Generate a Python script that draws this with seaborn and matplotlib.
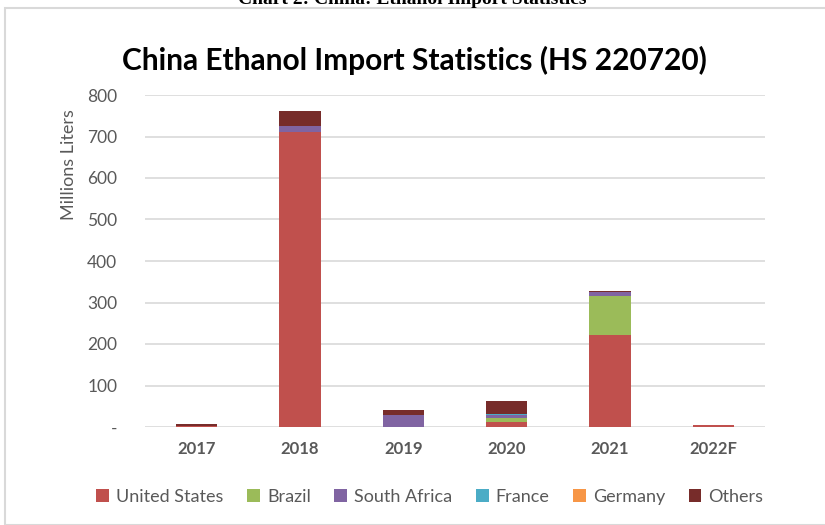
import matplotlib
matplotlib.use("Agg")
import matplotlib.pyplot as plt
import seaborn as sns
import pandas as pd
import numpy as np
from matplotlib.patches import Rectangle, Patch

years = ["2017", "2018", "2019", "2020", "2021", "2022F"]
series = ["United States", "Brazil", "South Africa", "France", "Germany", "Others"]
united_states = [2, 711, 0, 12, 222, 4]
brazil = [0, 0, 0, 10, 94, 0]
south_africa = [0, 14, 28, 8, 9, 0]
france = [0, 0, 0, 1, 0, 0]
germany = [0, 0, 0, 0, 0, 0]
others = [6, 36, 14, 32, 3, 1]
colors = ["#c0504d", "#9bbb59", "#8064a2", "#4bacc6", "#f79646", "#772c2a"]
yticks = [0, 100, 200, 300, 400, 500, 600, 700, 800]
ytick_labels = ["-", "100", "200", "300", "400", "500", "600", "700", "800"]

values = [united_states, brazil, south_africa, france, germany, others]
df = pd.DataFrame({"Year": years})
cum = np.zeros(len(years))
for name, vals in zip(series, values):
    cum = cum + np.array(vals, dtype=float)
    df[name] = cum.copy()

sns.set_theme(style="white")
plt.rcParams["font.family"] = ["Lato", "DejaVu Sans"]

fig = plt.figure(figsize=(8.25, 5.25), dpi=100)
ax = fig.add_axes([145/825, 1-427/525, (765-145)/825, (427-95)/525])

# stacked bars via overlapping cumulative bars (top layer first)
for name, col in reversed(list(zip(series, colors))):
    sns.barplot(data=df, x="Year", y=name, color=col, width=0.4,
                saturation=1, ax=ax, linewidth=0, order=years)

ax.set_ylim(0, 800)
ax.set_xlim(-0.5, len(years) - 0.5)
ax.set_yticks(yticks)
ax.set_yticklabels(ytick_labels)
ax.yaxis.grid(True, color="#d9d9d9", linewidth=1.2)
ax.set_axisbelow(True)
for s in ax.spines.values():
    s.set_visible(False)
ax.tick_params(axis="y", colors="#595959", labelsize=12.5, length=0, pad=20)
ax.tick_params(axis="x", colors="#595959", labelsize=12, length=0, pad=10)
for lbl in ax.get_xticklabels():
    lbl.set_fontweight("bold")
ax.set_xlabel("")
ax.set_ylabel("Millions Liters", fontsize=13, color="#595959", labelpad=8)
ax.yaxis.set_label_coords(-0.11, (427-165)/332)

fig.text(414/825, 1-60/525, "China Ethanol Import Statistics (HS 220720)",
         ha="center", va="center", fontsize=21.5, fontweight="bold", color="#000000")

fig.text(0.5, 1-4/525, "Chart 2: China: Ethanol Import Statistics",
         ha="center", va="baseline", fontsize=14, fontweight="bold",
         family=["Liberation Serif", "DejaVu Serif"], color="#000000")

handles = [Patch(facecolor=c, edgecolor="none") for c in colors]
fig.legend(handles, series, loc="center", bbox_to_anchor=(430/825, 1-497/525),
           ncol=6, frameon=False, fontsize=13, handlelength=0.7, handleheight=0.7,
           columnspacing=1.3, handletextpad=0.4, labelcolor="#595959")

fig.patches.append(Rectangle((5/825, 0), 1, 1-8/525, transform=fig.transFigure,
                             fill=False, edgecolor="#d9d9d9", linewidth=1.5))

fig.savefig("out.png", dpi=100)
